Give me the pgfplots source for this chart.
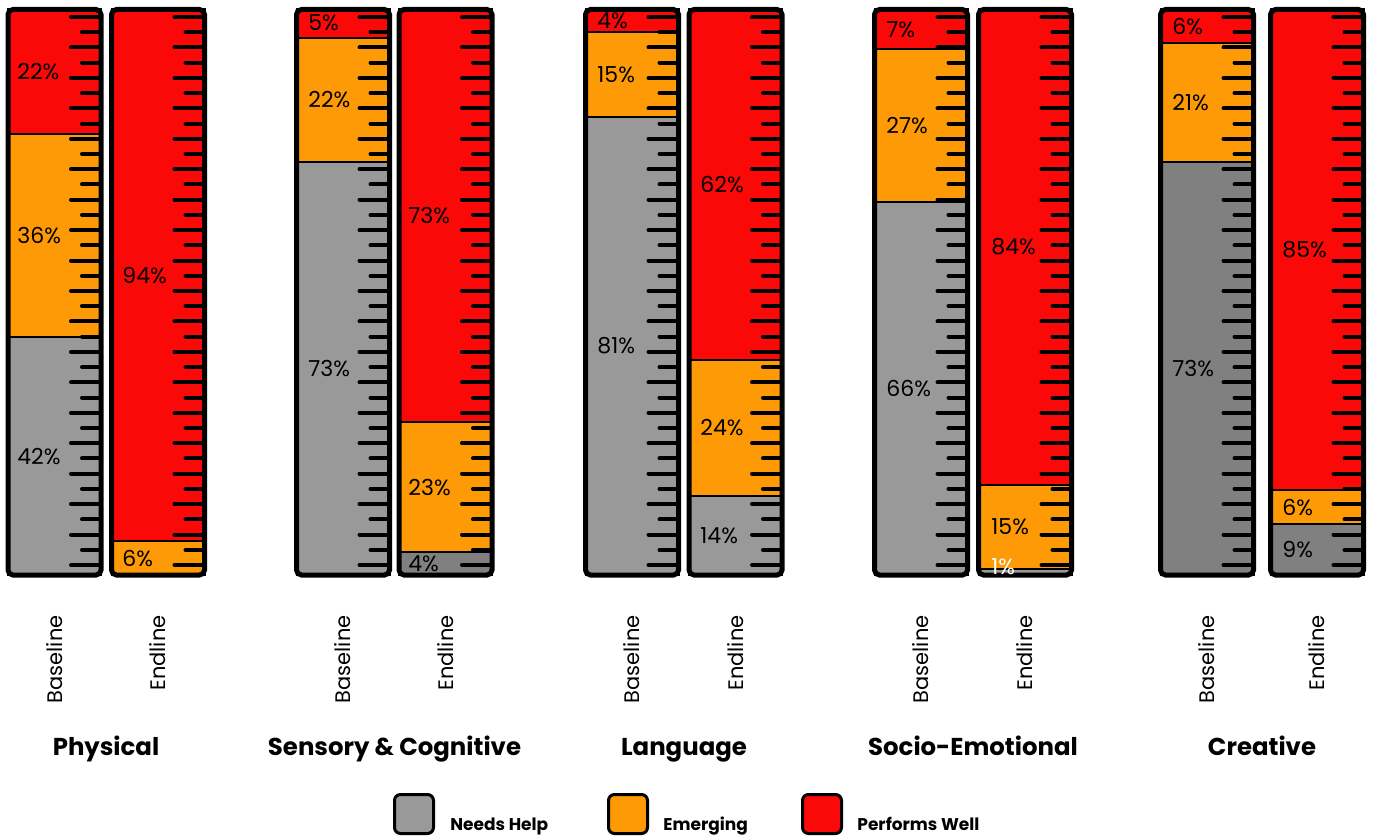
\documentclass[border=0pt]{standalone}
\usepackage{fontspec}
\setmainfont{Poppins}
\usepackage{pgfplots}
\usepackage{pgfplotstable}
\pgfplotsset{compat=1.18}

\definecolor{needs}{HTML}{999999}
\definecolor{needsdark}{HTML}{808080}
\definecolor{emerg}{HTML}{FD9A05}
\definecolor{perf}{HTML}{FB0808}

\tikzset{lab/.style={anchor=west, inner sep=0pt, font=\fontsize{11}{13}\selectfont},
         grp/.style={anchor=base, inner sep=0pt, font=\bfseries\fontsize{12.2}{14}\selectfont}}
\pgfplotsset{frame/.style={
  scale only axis, width=687pt, height=418pt,
  xmin=0, xmax=1374, ymin=-46.15, ymax=101.68,
  hide axis, clip=false, at={(0,0)}, anchor=south west}}

% x = bar centre (one unit = one pixel of the reference), shares in %
\pgfplotstableread{
x      nhl  nhd  em  pw
54.5   42   0    36  22
158    0    0    6   94
343    73   0    22  5
445.5  0    4    23  73
632    81   0    15  4
735.5  14   0    24  62
921    66   0    27  7
1025   1    0    15  84
1207   0    73   21  6
1317   0    9    6   85
}\scores

\begin{document}
\begin{tikzpicture}
\begin{axis}[
  frame,
  ybar stacked, bar width=93,
  every axis plot/.append style={draw=black, line width=1pt},
]
\addplot[fill=needs] table[x=x, y=nhl] {\scores};
\addplot[fill=needsdark] table[x=x, y=nhd] {\scores};
\addplot[fill=emerg] table[x=x, y=em] {\scores};
\addplot[fill=perf] table[x=x, y=pw] {\scores};
\path (rel axis cs:0,0) rectangle (rel axis cs:1,1);
\end{axis}

% second, identical frame on top: ruler ticks, bar frames, texts
\begin{axis}[frame]
\pgfplotsforeachungrouped \c in {54.5,158,343,445.5,632,735.5,921,1025,1207,1317}{
  \pgfmathsetmacro\xr{\c+46.5}
  \pgfmathsetmacro\xl{\c-46.5}
  \pgfplotsforeachungrouped \k in {0,...,36}{
    \pgfmathsetmacro\yy{1.768+\k*2.692}
    \pgfmathsetmacro\xt{\xr-19-11*(1-mod(\k,2))}
    \edef\tmp{\noexpand\draw[line width=2pt, line cap=round] (axis cs:\xr,\yy) -- (axis cs:\xt,\yy);}
    \tmp
  }
  \edef\tmp{\noexpand\draw[line width=2.5pt, rounded corners=2.5pt] (axis cs:\xl,0) rectangle (axis cs:\xr,100);}
  \tmp
}

% segment labels
\node[lab] at (axis cs:17,21) {42\%};
\node[lab] at (axis cs:17,60) {36\%};
\node[lab] at (axis cs:17,89) {22\%};
\node[lab] at (axis cs:122,3) {6\%};
\node[lab] at (axis cs:122,53) {94\%};
\node[lab] at (axis cs:308,36.5) {73\%};
\node[lab] at (axis cs:308,84) {22\%};
\node[lab] at (axis cs:308,97.6) {5\%};
\node[lab] at (axis cs:408,2) {4\%};
\node[lab] at (axis cs:408,15.5) {23\%};
\node[lab] at (axis cs:408,63.5) {73\%};
\node[lab] at (axis cs:597,40.5) {81\%};
\node[lab] at (axis cs:597,88.5) {15\%};
\node[lab] at (axis cs:597,98) {4\%};
\node[lab] at (axis cs:700,7) {14\%};
\node[lab] at (axis cs:700,26) {24\%};
\node[lab] at (axis cs:700,69) {62\%};
\node[lab] at (axis cs:886,33) {66\%};
\node[lab] at (axis cs:886,79.5) {27\%};
\node[lab] at (axis cs:886,96.5) {7\%};
\node[lab, text=white] at (axis cs:991,1.4) {1\%};
\node[lab] at (axis cs:991,8.5) {15\%};
\node[lab] at (axis cs:991,58) {84\%};
\node[lab] at (axis cs:1172,36.5) {73\%};
\node[lab] at (axis cs:1172,83.5) {21\%};
\node[lab] at (axis cs:1172,97) {6\%};
\node[lab] at (axis cs:1282,4.5) {9\%};
\node[lab] at (axis cs:1282,12) {6\%};
\node[lab] at (axis cs:1282,57.5) {85\%};

% bar names
\pgfplotsinvokeforeach{54.5,343,632,921,1207}{
  \node[rotate=90, anchor=east, inner sep=0pt, font=\fontsize{10.5}{12}\selectfont] at (axis cs:#1,-7.07) {Baseline};}
\pgfplotsinvokeforeach{158,445.5,735.5,1025,1317}{
  \node[rotate=90, anchor=east, inner sep=0pt, font=\fontsize{10.5}{12}\selectfont] at (axis cs:#1,-7.07) {Endline};}

% group names
\node[grp] at (axis cs:106,-32.0) {Physical};
\node[grp] at (axis cs:394.5,-32.0) {Sensory \& Cognitive};
\node[grp] at (axis cs:684,-32.0) {Language};
\node[grp] at (axis cs:973,-32.0) {Socio-Emotional};
\node[grp] at (axis cs:1262,-32.0) {Creative};

% legend
\node[draw=black, line width=1.5pt, fill=needs, rounded corners=3pt, minimum width=19.5pt, minimum height=19.5pt, inner sep=0pt] at (axis cs:414,-42.26) {};
\node[draw=black, line width=1.5pt, fill=emerg, rounded corners=3pt, minimum width=19.5pt, minimum height=19.5pt, inner sep=0pt] at (axis cs:628,-42.26) {};
\node[draw=black, line width=1.5pt, fill=perf, rounded corners=3pt, minimum width=19.5pt, minimum height=19.5pt, inner sep=0pt] at (axis cs:822,-42.26) {};
\node[anchor=base west, inner sep=0pt, font=\bfseries\fontsize{8.5}{10}\selectfont] at (axis cs:450,-45.09) {Needs Help};
\node[anchor=base west, inner sep=0pt, font=\bfseries\fontsize{8.5}{10}\selectfont] at (axis cs:663,-45.09) {Emerging};
\node[anchor=base west, inner sep=0pt, font=\bfseries\fontsize{8.5}{10}\selectfont] at (axis cs:857,-45.09) {Performs Well};
\end{axis}
\end{tikzpicture}
\end{document}
